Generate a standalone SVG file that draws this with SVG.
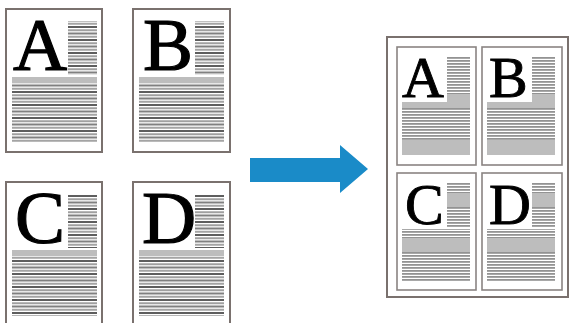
<svg xmlns="http://www.w3.org/2000/svg" width="570" height="323" viewBox="0 0 570 323">
<style>
.page{fill:#fff;stroke:#7a716e;stroke-width:2}
.mini{fill:#fff;stroke:#8a8482;stroke-width:1.6}
.outer{fill:#fff;stroke:#7a716e;stroke-width:2}
.big{font-family:"Liberation Serif","Times New Roman",serif;font-size:75px;fill:#000;stroke:#000;stroke-width:1.2}
.sm{font-family:"Liberation Serif","Times New Roman",serif;font-size:58px;fill:#000;stroke:#000;stroke-width:0.9}
.solid{fill:#bdbdbd}
.bs{fill:url(#bigStripe)}
.ms{fill:url(#miniStripe)}
</style>
<defs>
<pattern id="bigStripe" patternUnits="userSpaceOnUse" width="10" height="13">
<rect x="0" y="0" width="10" height="2" fill="#5e5e5e"/>
<rect x="0" y="3.25" width="10" height="2" fill="#a0a0a0"/>
<rect x="0" y="6.5" width="10" height="2" fill="#808080"/>
<rect x="0" y="9.75" width="10" height="2" fill="#a4a4a4"/>
</pattern>
<pattern id="miniStripe" patternUnits="userSpaceOnUse" width="10" height="3">
<rect x="0" y="0" width="10" height="1.8" fill="#939393"/>
</pattern>
</defs>
<g id="pageA">
<rect class="page" x="6" y="9" width="96" height="143"/>
<rect class="bs" x="68" y="21" width="29" height="54"/>
<rect class="solid" x="12" y="77" width="85" height="6"/>
<rect class="bs" x="12" y="83" width="85" height="59"/>
<text class="big" x="13" y="70">A</text>
</g>
<g id="pageB">
<rect class="page" x="133" y="9" width="97" height="143"/>
<rect class="bs" x="195" y="21" width="29" height="54"/>
<rect class="solid" x="139" y="77" width="85" height="6"/>
<rect class="bs" x="139" y="83" width="85" height="59"/>
<text class="big" x="143" y="70">B</text>
</g>
<g id="pageC">
<rect class="page" x="6" y="182" width="96" height="150"/>
<rect class="bs" x="68" y="194" width="29" height="54"/>
<rect class="solid" x="12" y="250" width="85" height="6"/>
<rect class="bs" x="12" y="256" width="85" height="60"/>
<text class="big" x="15" y="243">C</text>
</g>
<g id="pageD">
<rect class="page" x="133" y="182" width="97" height="150"/>
<rect class="bs" x="195" y="194" width="29" height="54"/>
<rect class="solid" x="139" y="250" width="85" height="6"/>
<rect class="bs" x="139" y="256" width="85" height="60"/>
<text class="big" x="142" y="243">D</text>
</g>
<g id="connectors">
<polygon points="250,158 340,158 340,145 368,169 340,193 340,182 250,182" fill="#1a8bc8"/>
</g>
<g id="sheet">
<rect class="outer" x="387" y="37" width="181" height="260"/>
</g>
<g id="miniA">
<rect class="mini" x="397" y="47" width="79" height="118"/>
<rect class="ms" x="447" y="57" width="23" height="37"/>
<rect class="solid" x="447" y="94" width="23" height="8"/>
<rect class="solid" x="402" y="102" width="68" height="6"/>
<rect class="ms" x="402" y="108" width="68" height="32"/>
<rect class="solid" x="402" y="140" width="68" height="15"/>
<text class="sm" x="402" y="97">A</text>
</g>
<g id="miniB">
<rect class="mini" x="482" y="47" width="80" height="118"/>
<rect class="ms" x="532" y="57" width="23" height="37"/>
<rect class="solid" x="532" y="94" width="23" height="8"/>
<rect class="solid" x="487" y="102" width="68" height="6"/>
<rect class="ms" x="487" y="108" width="68" height="32"/>
<rect class="solid" x="487" y="140" width="68" height="15"/>
<text class="sm" x="489" y="97">B</text>
</g>
<g id="miniC">
<rect class="mini" x="397" y="173" width="79" height="117"/>
<rect class="ms" x="447" y="183" width="23" height="10"/>
<rect class="solid" x="447" y="193" width="23" height="14"/>
<rect class="ms" x="447" y="207" width="23" height="20"/>
<rect class="ms" x="402" y="229" width="68" height="9"/>
<rect class="solid" x="402" y="238" width="68" height="14"/>
<rect class="ms" x="402" y="252" width="68" height="30"/>
<text class="sm" x="405" y="224">C</text>
</g>
<g id="miniD">
<rect class="mini" x="482" y="173" width="80" height="117"/>
<rect class="ms" x="532" y="183" width="23" height="10"/>
<rect class="solid" x="532" y="193" width="23" height="14"/>
<rect class="ms" x="532" y="207" width="23" height="20"/>
<rect class="ms" x="487" y="229" width="68" height="9"/>
<rect class="solid" x="487" y="238" width="68" height="14"/>
<rect class="ms" x="487" y="252" width="68" height="30"/>
<text class="sm" x="489" y="224">D</text>
</g>
</svg>
